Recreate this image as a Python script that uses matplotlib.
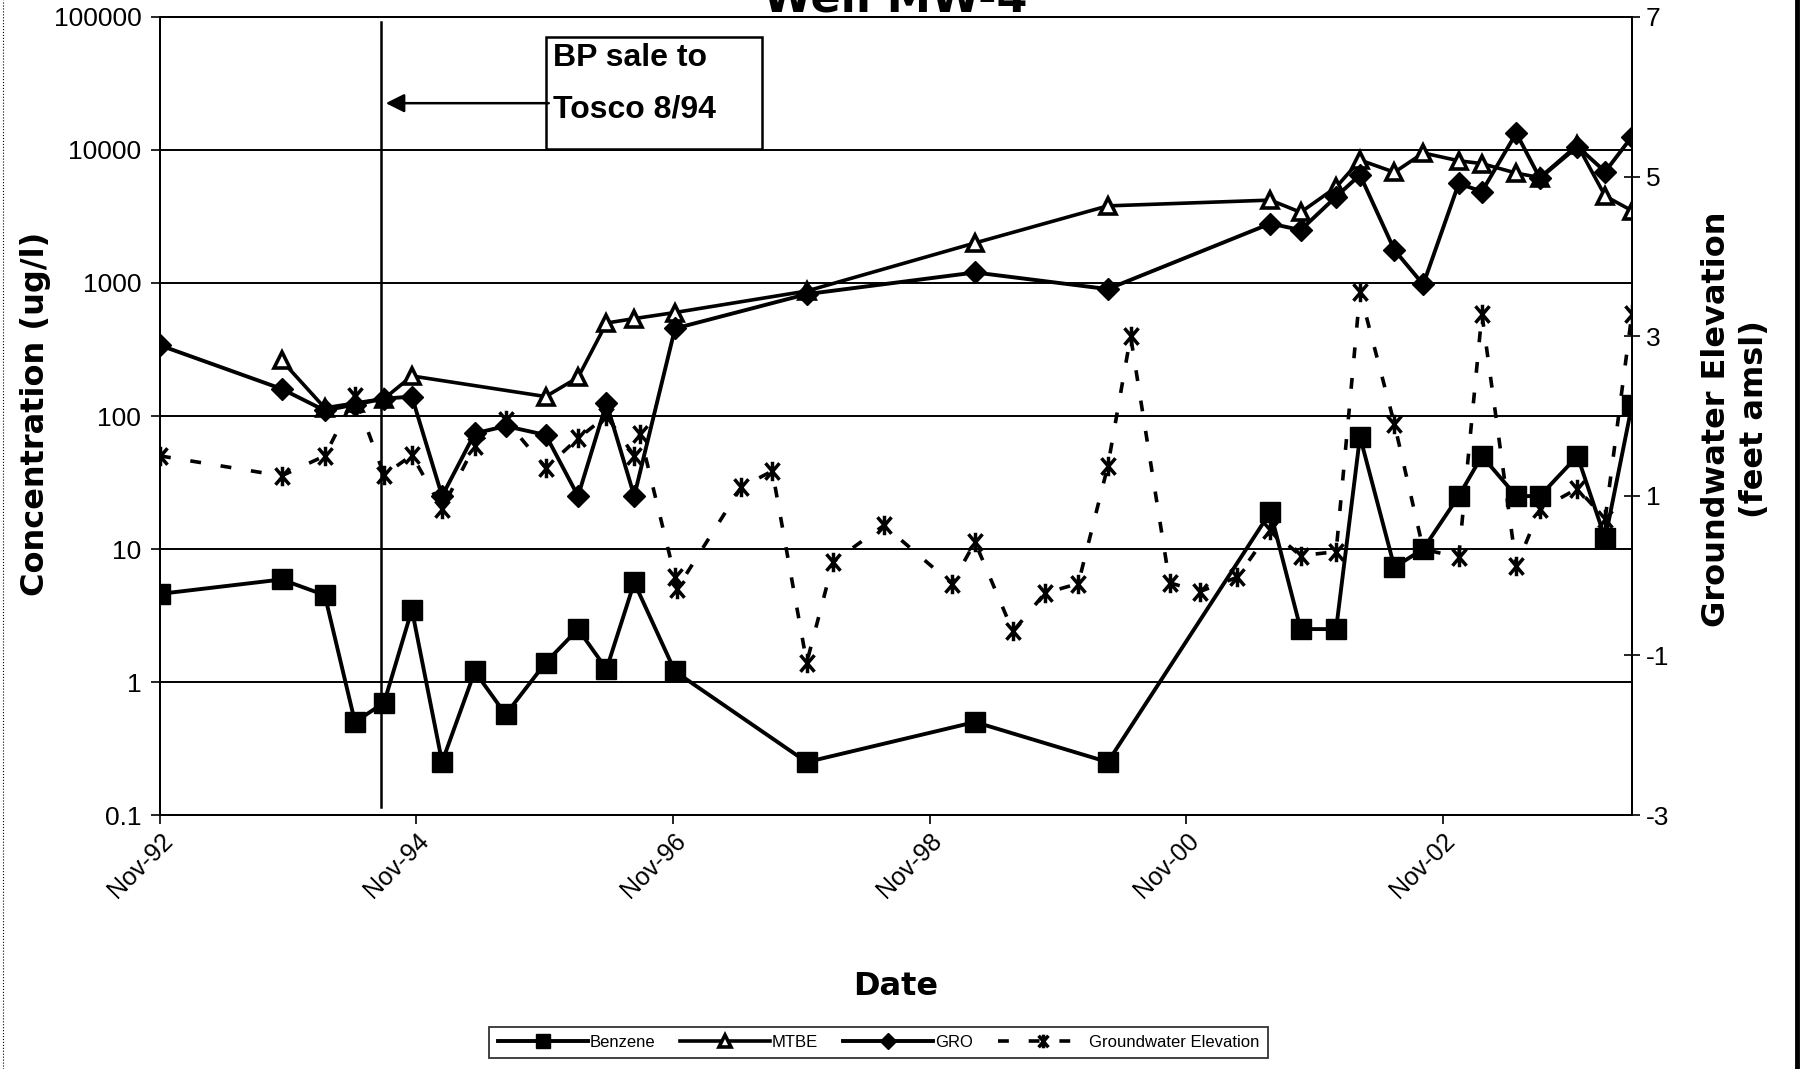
import numpy as np
import matplotlib
matplotlib.use("Agg")
import matplotlib.pyplot as plt
import matplotlib.dates as mdates
from matplotlib.path import Path
from matplotlib.lines import Line2D
from matplotlib.patches import Rectangle
from matplotlib.ticker import FixedLocator, FixedFormatter, NullLocator
import datetime as dt

plt.rcParams['font.family'] = ['Liberation Sans', 'DejaVu Sans']
plt.rcParams['axes.unicode_minus'] = False

# ---------------- data ----------------
sample_dates = ["1992-11-15", "1993-10-27", "1994-02-27", "1994-05-24", "1994-08-15",
                "1994-11-02", "1995-01-27", "1995-04-30", "1995-07-27", "1995-11-18",
                "1996-02-18", "1996-05-09", "1996-07-27", "1996-11-20", "1997-11-30",
                "1999-03-24", "2000-04-05", "2001-07-12", "2001-10-06", "2002-01-15",
                "2002-03-24", "2002-06-30", "2002-09-20", "2002-12-30", "2003-03-06",
                "2003-06-12", "2003-08-18", "2003-12-03", "2004-02-20", "2004-05-06"]
benzene = [4.6, 5.9, 4.5, 0.5, 0.7, 3.5, 0.25, 1.2, 0.57, 1.4,
           2.5, 1.25, 5.6, 1.2, 0.25, 0.5, 0.25, 19, 2.5, 2.5,
           70, 7.3, 10, 25, 50, 25, 25, 50, 12, 120]
mtbe = [np.nan, 262, 115, 125, 135, 200, np.nan, np.nan, np.nan, 140,
        195, 500, 540, 600, 870, 2000, 3800, 4200, 3400, 5250,
        8400, 6800, 9500, 8300, 7900, 6700, 6200, 10900, 4500, 3500]
gro = [340, 160, 110, 122, 135, 140, 25, 74, 84, 72,
       25, 125, 25, 455, 825, 1200, 900, 2800, 2500, 4460,
       6500, 1770, 975, 5600, 4870, 13400, 6140, 10600, 6870, 12600]

gw_dates = ["1992-11-15", "1993-10-27", "1994-02-27", "1994-05-24", "1994-08-15",
            "1994-11-02", "1995-01-27", "1995-04-30", "1995-07-27", "1995-11-18",
            "1996-02-18", "1996-05-09", "1996-07-27", "1996-08-12", "1996-11-20",
            "1996-11-25", "1997-05-28", "1997-08-24", "1997-11-30", "1998-02-13",
            "1998-07-08", "1999-01-17", "1999-03-24", "1999-07-10", "1999-10-09",
            "2000-01-12", "2000-04-05", "2000-06-09", "2000-09-28", "2000-12-23",
            "2001-04-09", "2001-07-12", "2001-10-06", "2002-01-15", "2002-03-24",
            "2002-06-30", "2002-09-20", "2002-12-30", "2003-03-06", "2003-06-12",
            "2003-08-18", "2003-12-03", "2004-02-20", "2004-05-06"]
gw_elev = [1.5, 1.25, 1.5, 2.25, 1.26, 1.51, 0.84, 1.63, 1.95, 1.35,
           1.72, 2.0, 1.5, 1.78, -0.02, -0.17, 1.11, 1.31, -1.09, 0.17,
           0.63, -0.1, 0.42, -0.7, -0.22, -0.1, 1.37, 3.0, -0.09, -0.2,
           -0.02, 0.57, 0.25, 0.30, 3.55, 1.9, 0.33, 0.23, 3.28, 0.12,
           0.83, 1.09, 0.71, 3.28]

conc_ticks = [0.1, 1, 10, 100, 1000, 10000, 100000]
conc_labels = ["0.1", "1", "10", "100", "1000", "10000", "100000"]
gw_ticks = [-3, -1, 1, 3, 5, 7]
date_ticks = ["1992-11-15", "1994-11-15", "1996-11-15", "1998-11-15", "2000-11-15", "2002-11-15"]
sale_date = "1994-08-06"

# ---------------- helpers ----------------
def to_dt(lst):
    return np.array([dt.datetime.strptime(s, "%Y-%m-%d") for s in lst])

d = to_dt(sample_dates)
gd = to_dt(gw_dates)
mt = np.array(mtbe, dtype=float)
mmask = ~np.isnan(mt)

ast_path = Path([(0, -1), (0, 1), (-0.72, -0.85), (0.72, 0.85), (-0.72, 0.85), (0.72, -0.85)],
                [Path.MOVETO, Path.LINETO, Path.MOVETO, Path.LINETO, Path.MOVETO, Path.LINETO])

fig = plt.figure(figsize=(18.02, 10.69), dpi=100)
ax = fig.add_axes([0.0888, 0.2376, 0.8168, 0.7465])
ax2 = ax.twinx()

# gridlines
for v in conc_ticks:
    ax.axhline(v, color='black', lw=1.4, zorder=1)

l_benz, = ax.plot(d, benzene, color='black', lw=2.8, marker='s', markersize=14,
                  markerfacecolor='black', markeredgecolor='black', zorder=3, label='Benzene')
l_mtbe, = ax.plot(d[mmask], mt[mmask], color='black', lw=2.6, marker='^', markersize=12,
                  markerfacecolor='white', markeredgecolor='black', markeredgewidth=2.6,
                  zorder=3, label='MTBE')
l_gro, = ax.plot(d, gro, color='black', lw=2.8, marker='D', markersize=11,
                 markerfacecolor='black', markeredgecolor='black', zorder=3, label='GRO')
l_gw, = ax2.plot(gd, gw_elev, color='black', lw=2.6, dashes=(3.0, 5.5), marker=ast_path,
                 markersize=14, markeredgewidth=2.5, markerfacecolor='none',
                 markeredgecolor='black', label='Groundwater Elevation')

# axes
ax.set_yscale('log')
ax.set_ylim(0.1, 100000)
ax.yaxis.set_major_locator(FixedLocator(conc_ticks))
ax.yaxis.set_major_formatter(FixedFormatter(conc_labels))
ax.yaxis.set_minor_locator(NullLocator())
ax.set_xlim(to_dt(["1992-11-15"])[0], to_dt(["2004-05-06"])[0])
ax.xaxis.set_major_locator(FixedLocator(mdates.date2num(to_dt(date_ticks))))
ax.xaxis.set_major_formatter(mdates.DateFormatter('%b-%y'))
ax.xaxis.set_minor_locator(NullLocator())

ax2.set_ylim(-3, 7)
ax2.yaxis.set_major_locator(FixedLocator(gw_ticks))
ax2.yaxis.set_minor_locator(NullLocator())

for a in (ax, ax2):
    for s in a.spines.values():
        s.set_color('black')
        s.set_linewidth(1.4)

ax.tick_params(axis='y', direction='out', length=6.5, width=1.2, labelsize=19, pad=7)
ax.tick_params(axis='x', direction='out', length=6.5, width=1.2, labelsize=18, pad=3)
ax2.tick_params(axis='y', direction='inout', length=12, width=1.2, labelsize=19, pad=4)
for lab in ax.get_xticklabels():
    lab.set_rotation(45)
    lab.set_ha('right')
    lab.set_va('top')
    lab.set_rotation_mode('anchor')

# BP sale annotation
ax.axvline(mdates.date2num(to_dt([sale_date])[0]), ymin=0.01, ymax=0.994,
           color='black', lw=1.8, zorder=2)
ax.add_patch(Rectangle((0.262, 0.835), 0.147, 0.14, transform=ax.transAxes,
                       facecolor='white', edgecolor='black', lw=1.8, zorder=4))
ax.text(0.267, 0.949, "BP sale to", transform=ax.transAxes, fontsize=23,
        fontweight='bold', ha='left', va='center', zorder=5)
ax.text(0.267, 0.884, "Tosco 8/94", transform=ax.transAxes, fontsize=23,
        fontweight='bold', ha='left', va='center', zorder=5)
ax.annotate('', xy=(0.1515, 0.892), xytext=(0.266, 0.892), xycoords='axes fraction',
            arrowprops=dict(arrowstyle='-|>', lw=1.8, color='black', mutation_scale=28),
            zorder=6)

# labels
bold = dict(family='DejaVu Sans', fontweight='bold', fontsize=23)
fig.text(0.497, 0.9897, "Well MW-4", ha='center', va='baseline',
         family='DejaVu Sans', fontweight='bold', fontsize=32)
fig.text(0.0195, 0.6127, "Concentration (ug/l)", rotation=90, ha='center', va='center', **bold)
fig.text(0.963, 0.608, "Groundwater Elevation\n(feet amsl)", rotation=90, ha='center',
         va='center', multialignment='center', linespacing=1.3, **bold)
fig.text(0.497, 0.0776, "Date", ha='center', va='center', **bold)

# legend
leg = fig.legend([l_benz, l_mtbe, l_gro, l_gw],
                 ['Benzene', 'MTBE', 'GRO', 'Groundwater Elevation'],
                 loc='center', bbox_to_anchor=(0.4876, 0.0248), ncol=4, fontsize=12,
                 frameon=True, fancybox=False, edgecolor='black', handlelength=5.4,
                 handletextpad=0.1, columnspacing=1.5, borderpad=0.5, numpoints=1,
                 markerscale=0.7)
leg.get_frame().set_linewidth(1.3)

# scan border lines
fig.add_artist(Line2D([0.9975, 0.9975], [0.0, 1.0], transform=fig.transFigure,
                      color='black', lw=3.5))
fig.add_artist(Line2D([0.0015, 0.0015], [0.0, 1.0], transform=fig.transFigure,
                      color='black', lw=0.8, ls=':'))

fig.savefig("out.png", dpi=100)
